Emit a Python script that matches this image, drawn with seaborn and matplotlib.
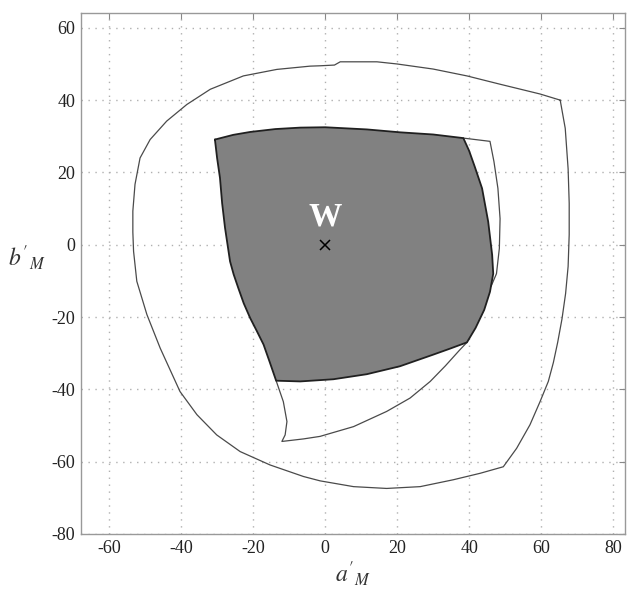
import numpy as np
import pandas as pd
import matplotlib
matplotlib.use("Agg")
import matplotlib.pyplot as plt
import seaborn as sns

# Outer gamut boundary (a'_M, b'_M), traced anticlockwise from the top-right corner
outer_a = [65.3, 59.7, 48.6, 39.4, 30.0, 20.0, 14.4, 4.2, 2.6, -1.4, -4.2, -13.4, -22.7,
           -31.9, -38.4, -44.0, -48.6, -51.4, -52.8, -53.4, -53.4, -53.2, -52.3, -49.5,
           -45.8, -40.3, -35.6, -30.1, -23.6, -15.3, -6.0, -1.4, 7.9, 17.1, 26.4, 35.6,
           43.1, 49.5, 53.2, 56.9, 59.7, 62.0, 63.4, 64.6, 65.8, 66.8, 67.5, 67.8, 67.8,
           67.5, 66.7, 65.3]
outer_b = [40.0, 41.7, 44.4, 46.7, 48.6, 50.0, 50.6, 50.6, 49.7, 49.5, 49.4, 48.5, 46.7,
           43.0, 38.8, 34.2, 29.1, 24.0, 16.7, 9.3, 3.5, -1.8, -10.1, -19.3,
           -28.6, -40.6, -47.0, -52.6, -57.2, -60.9, -64.1, -65.3, -66.9, -67.4, -66.9, -65.0,
           -63.2, -61.4, -56.3, -49.8, -43.4, -37.8, -32.6, -27.0, -20.5, -13.5, -6.0, 2.8, 11.5,
           21.0, 32.2, 40.0]

# Inner (shaded) gamut boundary
inner_a = [-30.6, -25.5, -20.8, -13.8, -6.9, 0.0, 11.6, 20.8, 30.0, 38.4, 40.0, 41.6, 43.6,
           45.3, 46.4, 46.7, 45.8, 44.2, 41.8, 39.4, 34.5, 30.0, 20.8, 11.6, 2.3, -6.9,
           -13.6, -15.4, -17.1, -19.0, -20.8, -22.6, -24.1, -25.4, -26.4, -27.8, -28.6, -29.2,
           -30.0, -30.6]
inner_b = [29.1, 30.4, 31.2, 32.0, 32.4, 32.5, 31.9, 31.1, 30.5, 29.5, 26.0, 21.5, 15.6,
           6.4, -2.8, -8.0, -13.0, -18.0, -23.0, -27.0, -28.8, -30.4, -33.6, -35.8, -37.2, -37.8,
           -37.6, -32.4, -27.6, -23.8, -20.3, -16.2, -12.0, -8.2, -4.6, 4.7, 11.5, 18.5,
           24.0, 29.1]

# Middle gamut boundary, where it leaves the shaded one
mid_right_a = [38.4, 45.8, 46.9, 48.0, 48.6, 48.4, 47.6, 46.1]
mid_right_b = [29.5, 28.6, 23.0, 15.6, 7.2, -1.0, -8.0, -11.5]
mid_low_a = [-13.6, -11.6, -10.6, -11.1, -12.0, -6.0, -1.4, 7.9, 17.1, 23.6, 29.2, 33.4, 37.3, 39.4]
mid_low_b = [-37.6, -43.4, -48.9, -52.6, -54.4, -53.7, -53.0, -50.3, -46.1, -42.4, -37.8, -33.5, -29.2, -27.0]

white_point = (0.0, 0.0)
x_ticks = [-60, -40, -20, 0, 20, 40, 60, 80]
y_ticks = [-80, -60, -40, -20, 0, 20, 40, 60]

sns.set_theme(style="white")
plt.rcParams["font.family"] = ["Liberation Serif", "DejaVu Serif"]
plt.rcParams["mathtext.fontset"] = "stix"
plt.rcParams["axes.unicode_minus"] = False

fig = plt.figure(figsize=(6.27, 5.98), dpi=100)
ax = fig.add_axes([81 / 627, 64 / 598, 544 / 627, 521 / 598])

ax.fill(inner_a, inner_b, color="#818181", zorder=2, lw=0)

line_kw = dict(sort=False, estimator=None, ax=ax, legend=False)
sns.lineplot(x=outer_a, y=outer_b, color="#4a4a4a", lw=0.9, zorder=3, **line_kw)
sns.lineplot(x=mid_right_a, y=mid_right_b, color="#4a4a4a", lw=0.9, zorder=3, **line_kw)
sns.lineplot(x=mid_low_a, y=mid_low_b, color="#4a4a4a", lw=0.9, zorder=3, **line_kw)
sns.lineplot(x=inner_a, y=inner_b, color="#202020", lw=1.3, zorder=4, **line_kw)

ax.plot([white_point[0]], [white_point[1]], marker="x", color="black",
        ms=7, mew=1.1, ls="none", zorder=5)
ax.text(white_point[0], white_point[1] + 3.3, "W", color="white", fontsize=24,
        fontweight="bold", ha="center", va="bottom", zorder=6)

ax.set_xlim(-67.8, 83.3)
ax.set_ylim(-80, 64.1)
ax.set_xticks(x_ticks)
ax.set_yticks(y_ticks)
ax.tick_params(axis="both", direction="in", length=4, width=0.8, color="#888888",
               labelsize=13, labelcolor="#222222", top=True, right=True, pad=4)
ax.grid(True, ls=(0, (1, 4)), color="#b0b0b0", lw=1.0)
for sp in ax.spines.values():
    sp.set_color("#999999")
    sp.set_linewidth(1.0)

ax.set_xlabel(r"$a'_M$", fontsize=17, color="#333333", labelpad=2)
ax.set_ylabel(r"$b'_M$", fontsize=17, color="#333333", rotation=0,
              ha="center", va="center")
ax.yaxis.set_label_coords(-0.099, 0.53)

fig.savefig("out.png", dpi=100)
